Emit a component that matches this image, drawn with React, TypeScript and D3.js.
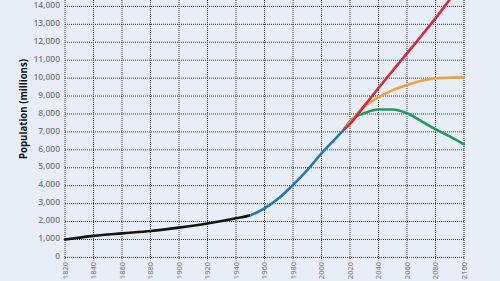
import React from "react";
import * as d3 from "d3";

const historyYears = [1820, 1840, 1860, 1880, 1900, 1920, 1940, 1950];
const historyValues = [1000, 1200, 1340, 1470, 1660, 1890, 2180, 2350];

const modernYears = [1950, 1960, 1970, 1980, 1990, 2000, 2010, 2016];
const modernValues = [2350, 2740, 3300, 4040, 4870, 5800, 6640, 7150];

const scenarioYears = [2016, 2020, 2030, 2040, 2050, 2060, 2070, 2080, 2090, 2100];
const highValues = [7150, 7450, 8450, 9450, 10420, 11380, 12350, 13330, 14380, 15450];
const mediumValues = [7150, 7550, 8400, 8930, 9330, 9620, 9850, 9990, 10030, 10040];
const lowValues = [7150, 7600, 8040, 8250, 8250, 8040, 7600, 7150, 6750, 6300];

const xTicks = d3.range(1820, 2101, 20);
const yTicks = d3.range(0, 14001, 1000);
const yTitle = "Population (millions)";

const W = 500;
const H = 281;

export default function App() {
  const x = d3.scaleLinear().domain([1820, 2100]).range([65, 464]);
  const y = d3.scaleLinear().domain([0, 14000]).range([257.4, 6.4]);
  const line = (years: number[], vals: number[]) =>
    d3
      .line<number>()
      .x((_, i) => x(years[i]))
      .y((v) => y(v))
      .curve(d3.curveMonotoneX)(vals) || "";
  const fmt = d3.format(",");
  const pastYears = historyYears.concat(modernYears.slice(1));
  const pastValues = historyValues.concat(modernValues.slice(1));
  const splitX = x(1950);
  const series = [
    { years: scenarioYears, vals: lowValues, color: "#1f9c5c" },
    { years: scenarioYears, vals: mediumValues, color: "#eea23f" },
    { years: scenarioYears, vals: highValues, color: "#d8283a" },
  ];
  return (
    <svg
      width={W}
      height={H}
      style={{ position: "absolute", left: 0, top: 0, background: "#e7eef7" }}
    >
      <defs>
        <clipPath id="clipHist">
          <rect x={0} y={0} width={splitX} height={258} />
        </clipPath>
        <clipPath id="clipMod">
          <rect x={splitX} y={0} width={W} height={258} />
        </clipPath>
        <clipPath id="clip">
          <rect x={0} y={0} width={W} height={258} />
        </clipPath>
      </defs>
      <rect x={0} y={0} width={W} height={H} fill="#e7eef7" />
      <g stroke="#3a3a3a" strokeWidth={1} strokeDasharray="1,1">
        {yTicks.map((t) => (
          <line key={"h" + t} x1={x(1820)} x2={x(2100)} y1={y(t)} y2={y(t)} />
        ))}
        {xTicks.map((t) => (
          <line key={"v" + t} x1={x(t)} x2={x(t)} y1={0} y2={y(0) + 3} />
        ))}
      </g>
      <g
        fontFamily="'Open Sans', sans-serif"
        fontSize={8.5}
        fontWeight={600}
        fill="#7a7a7a"
        textAnchor="end"
      >
        {yTicks.map((t) => (
          <text key={"yl" + t} x={60} y={y(t)} dy="0.2em">
            {fmt(t)}
          </text>
        ))}
      </g>
      <g
        fontFamily="'Open Sans', sans-serif"
        fontSize={7.5}
        fontWeight={600}
        fill="#8a8a8a"
        textAnchor="end"
      >
        {xTicks.map((t) => (
          <text
            key={"xl" + t}
            transform={`translate(${x(t)},${262}) rotate(-90)`}
            dy="0.35em"
          >
            {t}
          </text>
        ))}
      </g>
      <text
        transform={`translate(23,109) rotate(-90)`}
        textAnchor="middle"
        dy="0.35em"
        fontFamily="'Open Sans', sans-serif"
        fontWeight={700}
        fontSize={10}
        textLength={100}
        lengthAdjust="spacingAndGlyphs"
        fill="#111"
      >
        {yTitle}
      </text>
      <g fill="none" strokeWidth={2.6} strokeLinecap="round">
        <path d={line(pastYears, pastValues)} stroke="#141414" clipPath="url(#clipHist)" />
        <path d={line(pastYears, pastValues)} stroke="#2677b5" clipPath="url(#clipMod)" />
        <g clipPath="url(#clip)">
          {series.map((s, i) => (
            <path key={i} d={line(s.years, s.vals)} stroke={s.color} />
          ))}
        </g>
      </g>
    </svg>
  );
}
